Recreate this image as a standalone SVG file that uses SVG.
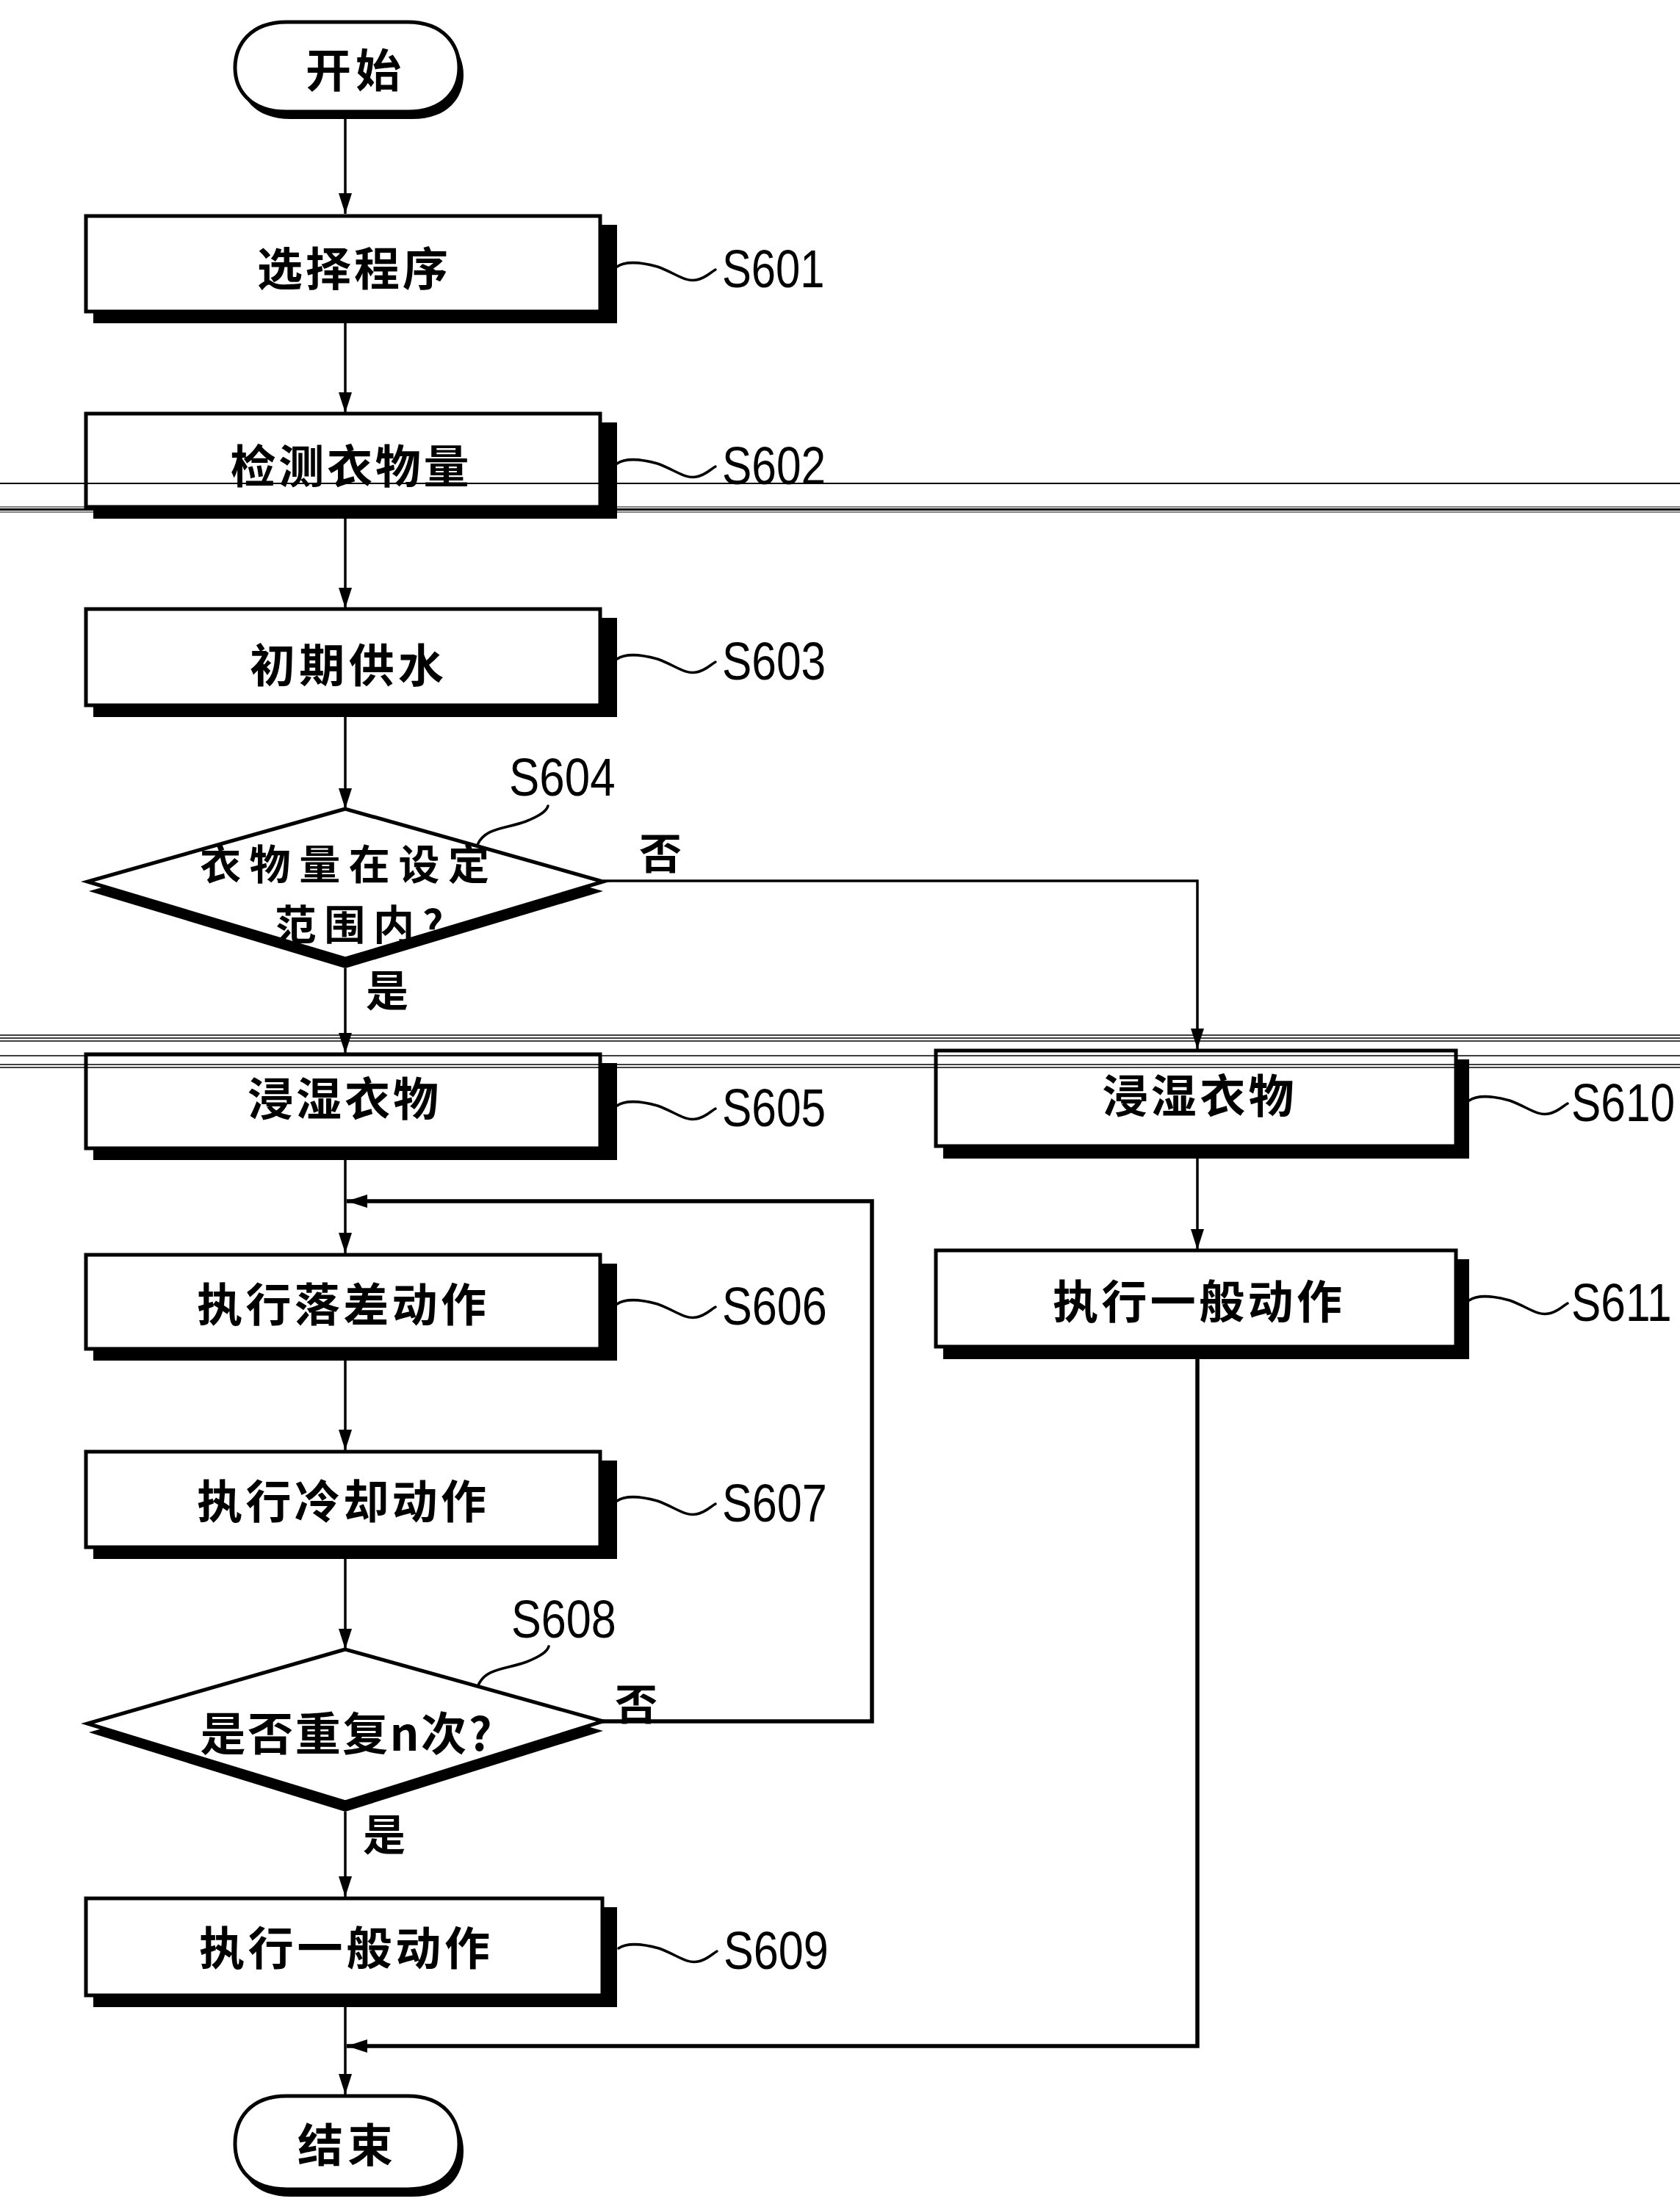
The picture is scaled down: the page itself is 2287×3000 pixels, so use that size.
<svg xmlns="http://www.w3.org/2000/svg" xmlns:xlink="http://www.w3.org/1999/xlink" width="2287" height="3000" viewBox="0 0 2287 3000">
<style>
.bg{fill:#fff}
.box{fill:#fff;stroke:#000;stroke-width:5}
.sh{fill:#000}
.cjk{font-family:"Noto Sans CJK SC","Noto Sans CJK JP",sans-serif;font-size:62px;font-weight:700;text-anchor:middle;dominant-baseline:central;fill:#000}
.dia{font-family:"Noto Sans CJK SC","Noto Sans CJK JP",sans-serif;font-size:56px;font-weight:700;text-anchor:middle;dominant-baseline:central;fill:#000}
.yn{font-family:"Noto Sans CJK SC","Noto Sans CJK JP",sans-serif;font-size:58px;font-weight:700;text-anchor:middle;dominant-baseline:central;fill:#000}
.lbl{font-family:"Liberation Sans",Arial,sans-serif;font-size:72px;dominant-baseline:central;fill:#000}
.sq{fill:none;stroke:#000;stroke-width:3.5;stroke-linecap:round}
.ln{fill:none;stroke:#000;stroke-width:3.5}
.lnb{fill:none;stroke:#000;stroke-width:5.5}
.art{stroke:#000;fill:none}
</style>
<defs>
<marker id="ah" viewBox="0 0 28 20" refX="28" refY="10" markerWidth="28" markerHeight="20" markerUnits="userSpaceOnUse" orient="auto">
<path d="M0,1 L28,10 L0,19 Z" fill="#000"/>
</marker>
<path id="sq" d="M0,-3 C10,-10 30,-10 55,-3 C80,6 92,18 108,15 C120,13 127,5 134,1"/>
</defs>
<rect class="bg" x="0" y="0" width="2287" height="3000"/>

<g id="connectors">
<path class="ln" d="M470,160 L470,291" marker-end="url(#ah)"/>
<path class="ln" d="M470,440 L470,562" marker-end="url(#ah)"/>
<path class="ln" d="M470,706 L470,828" marker-end="url(#ah)"/>
<path class="ln" d="M470,976 L470,1101" marker-end="url(#ah)"/>
<path class="ln" d="M470,1318 L470,1434" marker-end="url(#ah)"/>
<path class="ln" d="M470,1579 L470,1706" marker-end="url(#ah)"/>
<path class="ln" d="M470,1852 L470,1974" marker-end="url(#ah)"/>
<path class="ln" d="M470,2122 L470,2245" marker-end="url(#ah)"/>
<path class="ln" d="M470,2466 L470,2582" marker-end="url(#ah)"/>
<path class="ln" d="M470,2732 L470,2851" marker-end="url(#ah)"/>
<path class="ln" d="M821,1199 L1630,1199 L1630,1428" marker-end="url(#ah)"/>
<path class="ln" d="M1630,1576 L1630,1701" marker-end="url(#ah)"/>
<path class="lnb" d="M1630,1848 L1630,2785 L472,2785" marker-end="url(#ah)"/>
<path class="lnb" d="M820,2343 L1187,2343 L1187,1635 L472,1635" marker-end="url(#ah)"/>
<text class="yn" x="899" y="1158">否</text>
<text class="yn" x="527" y="1345">是</text>
<text class="yn" x="866" y="2316">否</text>
<text class="yn" x="523" y="2494">是</text>
</g>

<g id="start">
<path class="sh" transform="translate(6,10)" d="M390,30 L555,30 C605,30 625,62 625,92 C625,122 605,152 555,152 L390,152 C340,152 320,122 320,92 C320,62 340,30 390,30 Z"/>
<path class="box" d="M390,30 L555,30 C605,30 625,62 625,92 C625,122 605,152 555,152 L390,152 C340,152 320,122 320,92 C320,62 340,30 390,30 Z"/>
<text class="cjk" x="481" y="92" textLength="130" lengthAdjust="spacing">开始</text>
</g>

<g id="S601">
<rect class="sh" x="127" y="306" width="713" height="134"/>
<rect class="box" x="117" y="294" width="700" height="130"/>
<text class="cjk" x="480" y="362" textLength="260" lengthAdjust="spacing">选择程序</text>
<use class="sq" href="#sq" xlink:href="#sq" transform="translate(840,366)"/>
<text class="lbl" transform="translate(983,366) scale(0.83,1)">S601</text>
</g>

<g id="S602">
<rect class="sh" x="127" y="575" width="713" height="131"/>
<rect class="box" x="117" y="563" width="700" height="127"/>
<text class="cjk" x="476" y="631" textLength="325" lengthAdjust="spacing">检测衣物量</text>
<use class="sq" href="#sq" xlink:href="#sq" transform="translate(840,634)"/>
<text class="lbl" transform="translate(983,634) scale(0.84,1)">S602</text>
</g>

<g id="S603">
<rect class="sh" x="127" y="841" width="713" height="135"/>
<rect class="box" x="117" y="829" width="700" height="131"/>
<text class="cjk" x="472" y="902" textLength="264" lengthAdjust="spacing">初期供水</text>
<use class="sq" href="#sq" xlink:href="#sq" transform="translate(840,900)"/>
<text class="lbl" transform="translate(983,900) scale(0.84,1)">S603</text>
</g>

<g id="S604">
<polygon class="sh" points="470,1114 121,1213 470,1318 821,1213"/>
<polygon class="box" points="470,1101 119,1200 470,1305 821,1200"/>
<text class="dia"><tspan x="469" y="1172" textLength="394" lengthAdjust="spacing">衣物量在设定</tspan><tspan x="489" y="1254" textLength="229" lengthAdjust="spacing">范围内?</tspan></text>
<path class="sq" d="M650,1150 C660,1126 690,1128 716,1118 C736,1110 744,1104 746,1097"/>
<text class="lbl" transform="translate(693,1058) scale(0.86,1)">S604</text>
</g>

<g id="S605">
<rect class="sh" x="127" y="1447" width="713" height="132"/>
<rect class="box" x="117" y="1435" width="700" height="128"/>
<text class="cjk" x="467" y="1492" textLength="260" lengthAdjust="spacing">浸湿衣物</text>
<use class="sq" href="#sq" xlink:href="#sq" transform="translate(840,1508)"/>
<text class="lbl" transform="translate(983,1508) scale(0.84,1)">S605</text>
</g>

<g id="S606">
<rect class="sh" x="127" y="1720" width="713" height="132"/>
<rect class="box" x="117" y="1708" width="700" height="128"/>
<text class="cjk" x="465" y="1772" textLength="394" lengthAdjust="spacing">执行落差动作</text>
<use class="sq" href="#sq" xlink:href="#sq" transform="translate(840,1778)"/>
<text class="lbl" transform="translate(983,1778) scale(0.85,1)">S606</text>
</g>

<g id="S607">
<rect class="sh" x="127" y="1988" width="713" height="134"/>
<rect class="box" x="117" y="1976" width="700" height="130"/>
<text class="cjk" x="465" y="2040" textLength="394" lengthAdjust="spacing">执行冷却动作</text>
<use class="sq" href="#sq" xlink:href="#sq" transform="translate(840,2046)"/>
<text class="lbl" transform="translate(983,2046) scale(0.85,1)">S607</text>
</g>

<g id="S608">
<polygon class="sh" points="470,2258 121,2358 470,2466 821,2356"/>
<polygon class="box" points="470,2245 119,2346 470,2453 821,2343"/>
<text class="cjk" x="471" y="2356" textLength="397" lengthAdjust="spacing">是否重复n次?</text>
<path class="sq" d="M651,2294 C661,2270 691,2272 717,2262 C737,2254 745,2248 747,2241"/>
<text class="lbl" transform="translate(696,2204) scale(0.85,1)">S608</text>
</g>

<g id="S609">
<rect class="sh" x="127" y="2596" width="713" height="136"/>
<rect class="box" x="117" y="2584" width="703" height="132"/>
<text class="cjk" x="469" y="2648" textLength="396" lengthAdjust="spacing">执行一般动作</text>
<use class="sq" href="#sq" xlink:href="#sq" transform="translate(842,2655)"/>
<text class="lbl" transform="translate(985,2655) scale(0.85,1)">S609</text>
</g>

<g id="S610">
<rect class="sh" x="1284" y="1442" width="716" height="135"/>
<rect class="box" x="1274" y="1430" width="708" height="130"/>
<text class="cjk" x="1631" y="1488" textLength="261" lengthAdjust="spacing">浸湿衣物</text>
<use class="sq" href="#sq" xlink:href="#sq" transform="translate(2000,1501)"/>
<text class="lbl" transform="translate(2139,1501) scale(0.84,1)">S610</text>
</g>

<g id="S611">
<rect class="sh" x="1284" y="1714" width="716" height="136"/>
<rect class="box" x="1274" y="1702" width="708" height="131"/>
<text class="cjk" x="1630" y="1768" textLength="394" lengthAdjust="spacing">执行一般动作</text>
<use class="sq" href="#sq" xlink:href="#sq" transform="translate(2000,1773)"/>
<text class="lbl" transform="translate(2139,1773) scale(0.84,1)">S611</text>
</g>

<g id="end">
<path class="sh" transform="translate(6,10)" d="M390,2853 L555,2853 C605,2853 625,2885 625,2918 C625,2951 605,2980 555,2980 L390,2980 C340,2980 320,2951 320,2918 C320,2885 340,2853 390,2853 Z"/>
<path class="box" d="M390,2853 L555,2853 C605,2853 625,2885 625,2918 C625,2951 605,2980 555,2980 L390,2980 C340,2980 320,2951 320,2918 C320,2885 340,2853 390,2853 Z"/>
<text class="cjk" x="470" y="2916" textLength="130" lengthAdjust="spacing">结束</text>
</g>

<g id="scan-lines">
<line class="art" x1="0" y1="658" x2="2287" y2="658" stroke-width="2"/>
<line class="art" x1="0" y1="690" x2="2287" y2="690" stroke-width="1.2"/>
<line class="art" x1="0" y1="693.5" x2="2287" y2="693.5" stroke-width="3"/>
<line class="art" x1="0" y1="697" x2="2287" y2="697" stroke-width="1.2"/>
<line class="art" x1="0" y1="1409" x2="2287" y2="1409" stroke-width="1.5"/>
<line class="art" x1="0" y1="1413" x2="2287" y2="1413" stroke-width="1.5"/>
<line class="art" x1="0" y1="1417" x2="2287" y2="1417" stroke-width="1.5"/>
<line class="art" x1="0" y1="1437" x2="2287" y2="1437" stroke-width="1.5"/>
<line class="art" x1="0" y1="1449" x2="2287" y2="1449" stroke-width="1.5"/>
<line class="art" x1="0" y1="1453" x2="2287" y2="1453" stroke-width="1.5"/>
</g>
</svg>
